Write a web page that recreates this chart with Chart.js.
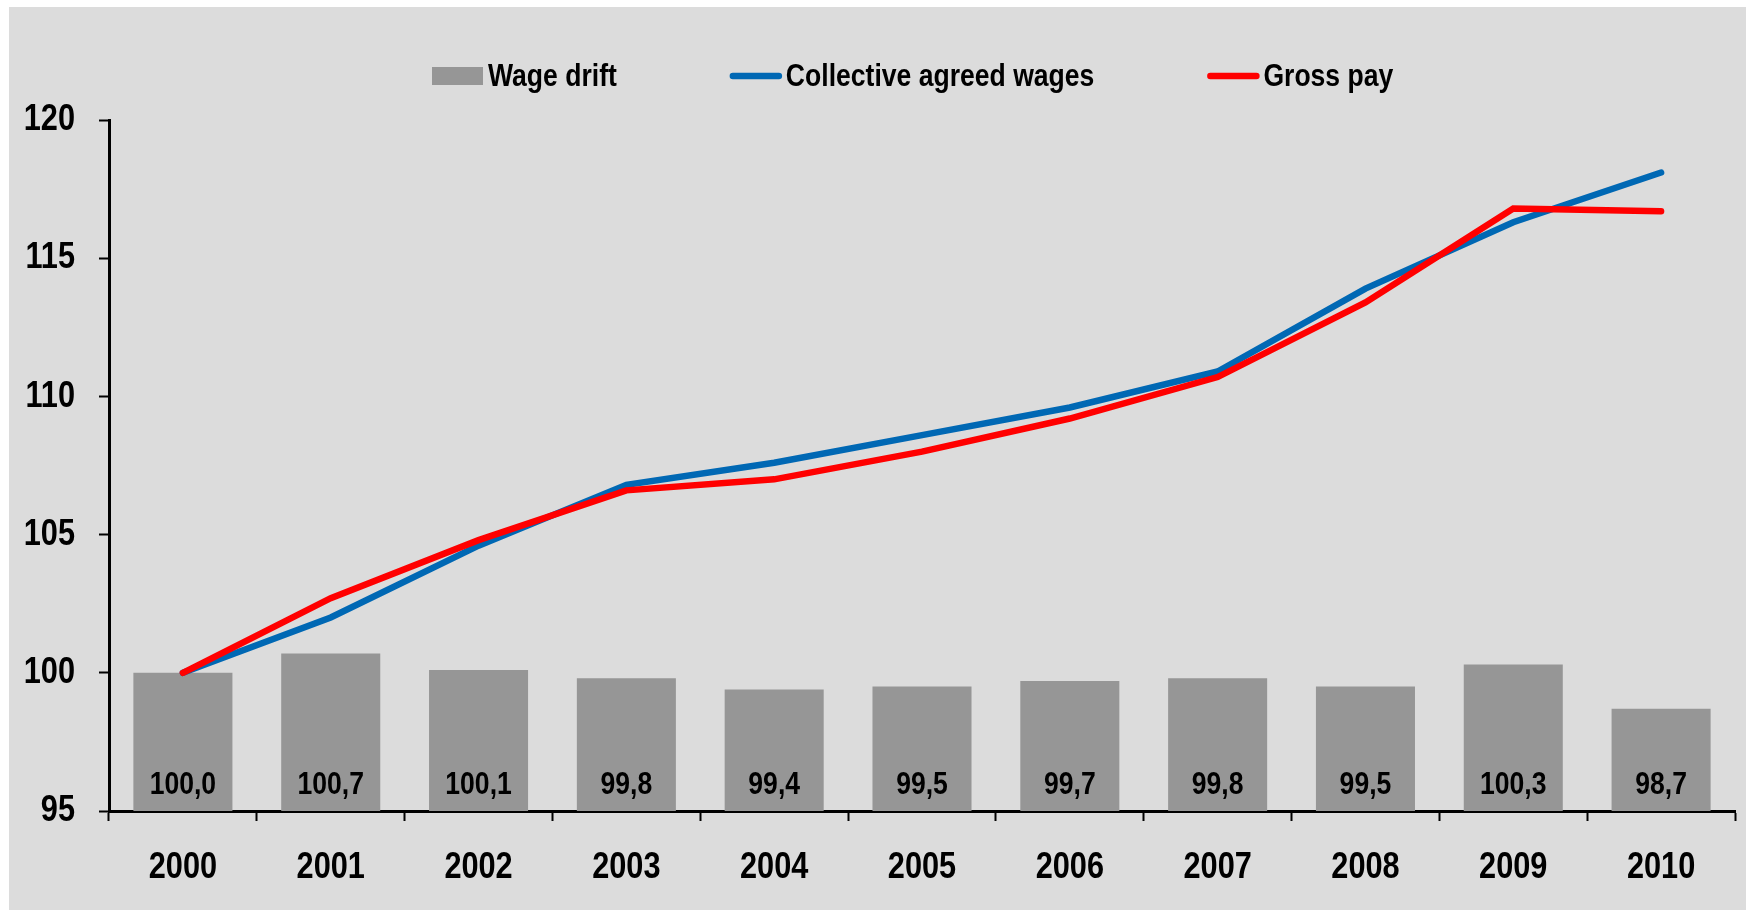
<!DOCTYPE html>
<html>
<head>
<meta charset="utf-8">
<script src="https://cdn.jsdelivr.net/npm/chart.js@4.4.1/dist/chart.umd.min.js"></script>
<style>
  html, body { margin: 0; padding: 0; background: #fff; }
  #wrap { position: absolute; left: 0; top: 0; width: 1746px; height: 910px; }
</style>
</head>
<body>
<div id="wrap"><canvas id="wageChart" width="1746" height="910"></canvas></div>
<script>
const years = ['2000', '2001', '2002', '2003', '2004', '2005', '2006', '2007', '2008', '2009', '2010'];
const wageDrift = [100.0, 100.7, 100.1, 99.8, 99.4, 99.5, 99.7, 99.8, 99.5, 100.3, 98.7];
const collectiveWages = [100.0, 102.0, 104.6, 106.8, 107.6, 108.6, 109.6, 110.9, 113.9, 116.3, 118.1];
const grossPay = [100.0, 102.7, 104.8, 106.6, 107.0, 108.0, 109.2, 110.7, 113.4, 116.8, 116.7];
const yTicks = [95, 100, 105, 110, 115, 120];

const fontFamily = '"Liberation Sans", Arial, sans-serif';
const squeeze = 0.83; // the original uses a narrow bold face

function narrowText(ctx, txt, x, y, align, size) {
    ctx.save();
    ctx.font = 'bold ' + size + 'px ' + fontFamily;
    ctx.fillStyle = '#000';
    ctx.textBaseline = 'middle';
    ctx.textAlign = align;
    ctx.translate(x, y);
    ctx.scale(squeeze, 1);
    ctx.fillText(txt, 0, 0);
    let w = ctx.measureText(txt).width * squeeze;
    ctx.restore();
    return w;
}

// grey panel behind the chart, small white margin top/left
const backgroundPlugin = {
    id: 'panel',
    beforeDraw(chart) {
        const ctx = chart.ctx;
        ctx.save();
        ctx.fillStyle = '#ffffff';
        ctx.fillRect(0, 0, chart.width, chart.height);
        ctx.fillStyle = '#dcdcdc';
        ctx.fillRect(9, 7, chart.width - 9, chart.height - 7);
        ctx.restore();
    }
};

// tick labels, drawn narrow at the scale's own tick positions
const tickLabelPlugin = {
    id: 'tickLabels',
    afterDraw(chart) {
        const ctx = chart.ctx;
        const xs = chart.scales.x;
        const ys = chart.scales.y;
        xs.ticks.forEach((t, i) => {
            narrowText(ctx, years[i], xs.getPixelForTick(i), xs.bottom - 42, 'center', 37);
        });
        ys.ticks.forEach((t, i) => {
            narrowText(ctx, String(t.value), ys.right - 34, ys.getPixelForTick(i), 'right', 37);
        });
    }
};

// value labels at the foot of each bar
const barLabelPlugin = {
    id: 'barLabels',
    afterDatasetsDraw(chart) {
        const ctx = chart.ctx;
        const meta = chart.getDatasetMeta(0);
        meta.data.forEach((bar, i) => {
            let txt = wageDrift[i].toFixed(1).replace('.', ',');
            narrowText(ctx, txt, bar.x, chart.chartArea.bottom - 26, 'center', 32);
        });
    }
};

// legend drawn by hand so the swatch sizes match the original
const legendPlugin = {
    id: 'customLegend',
    afterDraw(chart) {
        const ctx = chart.ctx;
        const y = 77;
        let x = 432;
        chart.data.datasets.forEach(ds => {
            ctx.save();
            if (ds.type === 'bar') {
                ctx.fillStyle = ds.backgroundColor;
                ctx.fillRect(x, y - 10, 51, 18);
            } else {
                ctx.strokeStyle = ds.borderColor;
                ctx.lineWidth = 6.5;
                ctx.lineCap = 'round';
                ctx.beginPath();
                ctx.moveTo(x + 3, y - 1);
                ctx.lineTo(x + 49, y - 1);
                ctx.stroke();
            }
            ctx.restore();
            x += 56;
            x += narrowText(ctx, ds.label, x, y, 'left', 32) + 113;
        });
    }
};

const ctx = document.getElementById('wageChart').getContext('2d');
const wageChart = new Chart(ctx, {
    data: {
        labels: years,
        datasets: [{
            type: 'bar',
            label: 'Wage drift',
            data: wageDrift,
            backgroundColor: '#969696',
            categoryPercentage: 0.67,
            barPercentage: 1,
            order: 3
        }, {
            type: 'line',
            label: 'Collective agreed wages',
            data: collectiveWages,
            borderColor: '#0068b4',
            borderWidth: 6.5,
            borderCapStyle: 'round',
            pointRadius: 0,
            tension: 0,
            order: 2
        }, {
            type: 'line',
            label: 'Gross pay',
            data: grossPay,
            borderColor: '#ff0000',
            borderWidth: 6.5,
            borderCapStyle: 'round',
            pointRadius: 0,
            tension: 0,
            order: 1
        }]
    },
    options: {
        responsive: false,
        animation: false,
        layout: {
            padding: { top: 120, right: 11, bottom: 0, left: 0 }
        },
        plugins: {
            legend: { display: false },
            tooltip: { enabled: false }
        },
        scales: {
            x: {
                offset: true,
                grid: {
                    offset: true,
                    drawOnChartArea: false,
                    drawTicks: true,
                    tickLength: 10,
                    tickWidth: 2,
                    tickColor: '#000'
                },
                border: { color: '#000', width: 3 },
                ticks: { display: false },
                afterFit(scale) { scale.height = 99; }
            },
            y: {
                min: 95,
                max: 120,
                afterBuildTicks(scale) {
                    scale.ticks = yTicks.map(v => ({ value: v }));
                },
                grid: {
                    drawOnChartArea: false,
                    drawTicks: true,
                    tickLength: 10,
                    tickWidth: 2,
                    tickColor: '#000'
                },
                border: { color: '#000', width: 3 },
                ticks: { display: false },
                afterFit(scale) { scale.width = 109; }
            }
        }
    },
    plugins: [backgroundPlugin, barLabelPlugin, tickLabelPlugin, legendPlugin]
});
</script>
</body>
</html>
